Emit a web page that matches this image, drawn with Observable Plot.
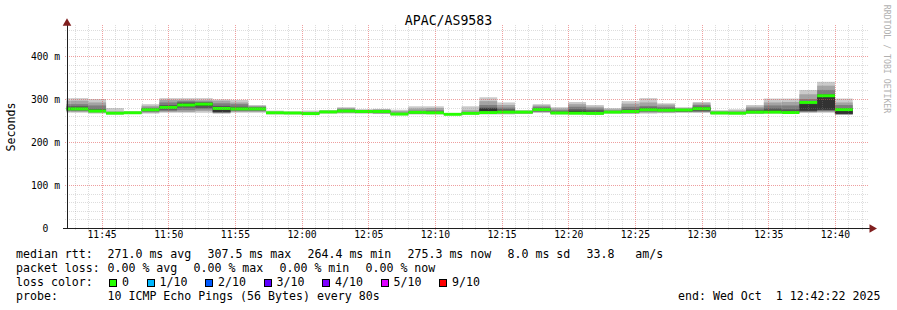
<!DOCTYPE html>
<html>
<head>
<meta charset="utf-8">
<script src="https://cdn.jsdelivr.net/npm/d3@7"></script>
<script src="https://cdn.jsdelivr.net/npm/@observablehq/plot@0.6"></script>
<style>
  html, body { margin: 0; padding: 0; background: #fff; }
  #wrap { position: relative; width: 897px; height: 310px; overflow: hidden;
          font-family: "DejaVu Sans Mono", monospace; color: #000; }
  #wrap svg { position: absolute; left: 0; top: 0; }
  .t { position: absolute; white-space: pre; line-height: 1; }
  .box { position: absolute; width: 6px; height: 6px; border: 1px solid #000; }
</style>
</head>
<body>
<div id="wrap"></div>
<script>
// ---------------- data ----------------
const chartTitle = "APAC/AS9583";
const yAxisTitle = "Seconds";
const watermark = "RRDTOOL / TOBI OETIKER";

const rangeStart = "2025-10-01T11:42:22";
const rangeEnd   = "2025-10-01T12:42:22";
const firstStepEnd = "2025-10-01T11:42:40";
const stepSeconds = 80;

// 10 sorted ping RTTs (ms) per 80 s step
const pings = [
  [268,270,272,274,276,278,283,288,296,302],
  [268,270,272,274,276,278,283,288,296,302],
  [266,268,270,271,272,273,277,285,292,300],
  [264,265,266,266,267,267,268,269,271,279],
  [265,266,267,267,268,268,269,269,270,272],
  [266,268,270,272,274,276,278,280,284,288],
  [268,270,272,275,279,282,286,292,298,302],
  [268,270,274,280,285,289,292,295,298,302],
  [268,272,276,279,284,290,292,294,297,302],
  [266,267,268,269,270,279,284,290,296,299],
  [268,270,272,274,276,278,282,288,292,298],
  [268,270,272,274,276,278,280,282,284,286],
  [264,265,266,267,267,268,268,269,270,273],
  [264,265,266,266,267,268,268,269,270,271],
  [263,264,265,265,266,266,267,268,270,273],
  [266,267,268,269,270,270,271,272,273,274],
  [266,268,269,270,271,273,274,276,279,281],
  [266,267,268,269,270,271,272,273,275,276],
  [265,266,267,269,270,271,272,274,276,277],
  [262,263,264,264,265,265,266,268,272,275],
  [264,265,266,267,268,269,270,273,278,283],
  [264,265,266,267,268,269,271,274,279,283],
  [262,263,263,264,264,265,265,266,266,267],
  [264,265,266,266,267,267,268,270,274,283],
  [264,266,268,270,271,278,280,286,295,304],
  [264,266,267,268,269,272,276,280,286,292],
  [265,266,267,268,269,270,271,272,273,274],
  [268,269,270,272,274,277,279,282,285,288],
  [264,265,266,267,268,269,271,274,278,281],
  [264,265,266,268,270,272,276,282,288,293],
  [263,264,265,266,267,270,274,278,282,286],
  [266,267,268,268,269,270,271,273,276,279],
  [265,266,268,269,270,272,276,282,289,295],
  [266,268,270,272,274,277,280,284,292,302],
  [267,268,270,272,273,275,278,282,287,290],
  [268,269,270,271,272,275,276,277,279,281],
  [268,269,270,272,275,279,282,286,290,293],
  [264,265,266,266,267,268,269,270,272,274],
  [264,265,266,266,267,268,269,270,273,276],
  [265,266,267,268,269,271,274,278,282,286],
  [266,267,268,270,271,273,278,285,292,301],
  [266,267,268,269,270,272,276,285,293,301],
  [268,269,270,272,273,288,292,300,311,321],
  [268,270,272,274,275,306,311,321,331,340],
  [263,264,264.5,265,265.5,274,279,286,292,301]
];

// median RTT (ms) per step
const medians = [
  277,277,272,267,268,275,280.5,286,288,278,277,277,268,267.5,266,270,272,271,271,265,
  269,268,264.4,266.6,268.5,269.5,269.5,275.5,267.5,267,266.6,269.5,271,275,274,274.5,277.5,267.5,267,269.5,
  269.5,268.5,292,307.5,275.3
];

const yTicks = [0, 100, 200, 300, 400];
const yTickLabels = ["0", "100 m", "200 m", "300 m", "400 m"];
const xTickLabels = ["11:45","11:50","11:55","12:00","12:05","12:10","12:15","12:20","12:25","12:30","12:35","12:40"];

const rttLabel = "median rtt:";
const rttStats = ["271.0 ms avg", "307.5 ms max", "264.4 ms min", "275.3 ms now", "8.0 ms sd", "33.8   am/s"];
const lossLabel = "packet loss:";
const lossStats = ["0.00 % avg", "0.00 % max", "0.00 % min", "0.00 % now"];
const lossColorLabel = "loss color:";
const lossClasses = ["0", "1/10", "2/10", "3/10", "4/10", "5/10", "9/10"];
const lossClassColors = ["#26ff00", "#00b8ff", "#0059ff", "#5e00ff", "#7e00ff", "#dd00ff", "#ff0000"];
const probeLabel = "probe:";
const probeText = "10 ICMP Echo Pings (56 Bytes) every 80s";
const endText = "end: Wed Oct  1 12:42:22 2025";

// ---------------- styling ----------------
const smokeShades = ["#cacaca", "#a4a4a4", "#7e7e7e", "#585858", "#323232"];
const yMax = 468;
const medianHalf = 3.4; // ms, half thickness of the median band

const t0 = new Date(rangeStart);
const t1 = new Date(rangeEnd);
const stepEnd0 = new Date(firstStepEnd);

const steps = pings.map((p, i) => {
  const x2 = new Date(+stepEnd0 + i * stepSeconds * 1000);
  const x1 = new Date(+x2 - stepSeconds * 1000);
  return {x1, x2, p, med: medians[i]};
});

const minorX = d3.timeMinute.range(t0, t1);
const majorX = minorX.filter(d => d.getMinutes() % 5 === 0);
const minorY = d3.range(20, yMax, 20).filter(v => v % 100 !== 0);
const majorY = d3.range(100, yMax, 100);
const xTicks = xTickLabels.map(s => new Date(`2025-10-01T${s}:00`));

const fontAxis = "9.7px";

const marks = [];
smokeShades.forEach((c, k) => {
  marks.push(Plot.rectY(steps, {
    x1: "x1", x2: "x2", y1: d => d.p[k], y2: d => d.p[9 - k],
    fill: c, clip: true
  }));
});
marks.push(Plot.rectY(steps, {
  x1: "x1", x2: "x2", y1: d => d.med - medianHalf, y2: d => d.med + medianHalf,
  fill: lossClassColors[0], clip: true
}));
// grid (drawn on top like rrdtool)
const gridMinor = {stroke: "#8f8f8f", strokeOpacity: 0.3, strokeDasharray: "1,1", shapeRendering: "crispEdges"};
const gridMajor = {stroke: "#e05050", strokeOpacity: 0.55, strokeDasharray: "1,1", shapeRendering: "crispEdges"};
marks.push(Plot.ruleX(minorX.filter(d => d.getMinutes() % 5 !== 0), {...gridMinor, insetTop: -2, insetBottom: -2}));
marks.push(Plot.ruleY(minorY, {...gridMinor, insetLeft: -2, insetRight: -2}));
marks.push(Plot.ruleX(majorX, {...gridMajor, insetTop: -2, insetBottom: -2}));
marks.push(Plot.ruleY(majorY, {...gridMajor, insetLeft: -2, insetRight: -2}));
// axes
marks.push(Plot.ruleY([0], {stroke: "#1f1f1f", insetLeft: -4, insetRight: -4, shapeRendering: "crispEdges"}));
marks.push(Plot.ruleX([t0], {stroke: "#1f1f1f", insetTop: -4, insetBottom: -1, shapeRendering: "crispEdges"}));
marks.push(Plot.dot([yMax], {x: () => t0, y: d => d, symbol: "triangle", r: 3.2, fill: "#801f1f", stroke: null, dy: -4}));
marks.push(Plot.dot([0], {x: () => t1, y: d => d, symbol: "triangle", r: 3.2, fill: "#801f1f", stroke: null, rotate: 90, dx: 5}));
// tick labels
marks.push(Plot.text(yTicks, {
  y: d => d, text: (d, i) => yTickLabels[i], frameAnchor: "left", dx: -21.5,
  textAnchor: "middle", fontSize: fontAxis, fill: "#000"
}));
marks.push(Plot.text(xTicks, {
  x: d => d, text: (d, i) => xTickLabels[i], frameAnchor: "bottom", dy: 9.3,
  textAnchor: "middle", fontSize: fontAxis, fill: "#000"
}));

const chart = Plot.plot({
  width: 897,
  height: 310,
  marginLeft: 66.5,
  marginRight: 30.5,
  marginTop: 26.76,
  marginBottom: 82,
  style: {fontFamily: "DejaVu Sans Mono", background: "#fff", overflow: "visible"},
  x: {type: "time", domain: [t0, t1], axis: null},
  y: {domain: [0, yMax], axis: null},
  marks
});

const wrap = document.getElementById("wrap");
wrap.appendChild(chart);

function addText(str, left, top, size, extra = {}) {
  const el = document.createElement("div");
  el.className = "t";
  el.textContent = str;
  el.style.left = left + "px";
  el.style.top = top + "px";
  el.style.fontSize = size + "px";
  Object.assign(el.style, extra);
  wrap.appendChild(el);
  return el;
}

// title
addText(chartTitle, 448.5, 13.6, 13.2, {transform: "translateX(-50%)"});
// y axis title (rotated)
addText(yAxisTitle, 11.5, 127, 11.6, {transform: "translate(-50%,-50%) rotate(-90deg)"});
// watermark
addText(watermark, 886.5, 59, 8.2, {transform: "translate(-50%,-50%) rotate(90deg)", color: "#b0b0b0"});

// legend
const fs = 11.6, cw = 7.0, gap = 16, x0 = 16, valueX = 107.5;
const lineTops = [248.7, 262.8, 276.9, 291.1];

function row(label, items, top) {
  addText(label, x0, top, fs);
  let x = valueX;
  items.forEach(s => { addText(s, x, top, fs); x += s.length * cw + gap; });
}
row(rttLabel, rttStats, lineTops[0]);
row(lossLabel, lossStats, lineTops[1]);

addText(lossColorLabel, x0, lineTops[2], fs);
{
  let x = valueX;
  lossClasses.forEach((s, i) => {
    const b = document.createElement("div");
    b.className = "box";
    b.style.left = (x + 1.5) + "px";
    b.style.top = (lineTops[2] + 2) + "px";
    b.style.background = lossClassColors[i];
    wrap.appendChild(b);
    addText(s, x + 14.5, lineTops[2], fs);
    x += 14.5 + s.length * cw + gap;
  });
}
addText(probeLabel, x0, lineTops[3], fs);
addText(probeText, valueX, lineTops[3], fs);
addText(endText, 881 - endText.length * cw, lineTops[3], fs);
</script>
</body>
</html>
